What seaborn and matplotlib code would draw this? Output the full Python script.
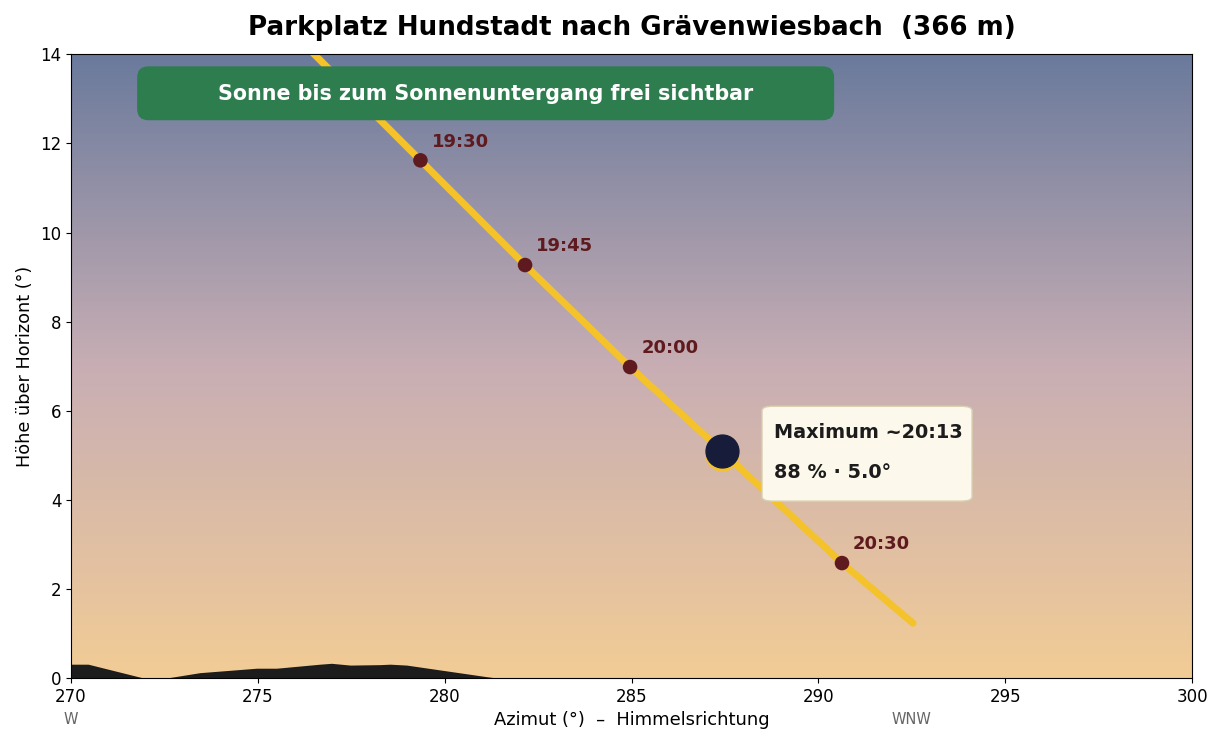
import numpy as np
import matplotlib.pyplot as plt
import seaborn as sns
from matplotlib.colors import LinearSegmentedColormap
from matplotlib.patches import FancyBboxPatch

# sun path (azimuth / altitude in degrees)
path_az = [276.45, 279.35, 282.15, 284.96, 287.42, 290.63, 292.53]
path_alt = [14.05, 11.62, 9.27, 6.98, 5.09, 2.58, 1.23]

# labelled times
time_labels = ["19:30", "19:45", "20:00", "20:30"]
time_az = [279.35, 282.15, 284.96, 290.63]
time_alt = [11.62, 9.27, 6.98, 2.58]

# maximum of the eclipse
max_az, max_alt = 287.42, 5.09
max_lines = ["Maximum ~20:13", "88 % · 5.0°"]

# terrain horizon
hor_az = [270.0, 270.46, 271.94, 272.56, 273.45, 274.97, 275.5, 276.66, 276.97,
          277.47, 278.27, 278.54, 278.98, 280.05, 281.12, 281.39, 300.0]
hor_alt = [0.31, 0.31, 0.0, 0.0, 0.12, 0.22, 0.22, 0.31, 0.33,
           0.29, 0.30, 0.31, 0.29, 0.16, 0.03, 0.0, 0.0]

compass_az = [270, 292.5]
compass_lbl = ["W", "WNW"]

fig = plt.figure(figsize=(12.24, 7.44), dpi=100)
ax = fig.add_axes([0.058, 0.0887, 0.916, 0.8383])

# sky gradient
sky = LinearSegmentedColormap.from_list("sky", ["#f2cc96", "#c8aeb4", "#6a7a9c"])
grad = np.linspace(0, 1, 256).reshape(-1, 1)
ax.imshow(grad, cmap=sky, origin="lower", extent=[270, 300, 0, 14], aspect="auto", zorder=0)

ax.fill_between(hor_az, 0, hor_alt, color="#1c1c1c", lw=0, zorder=1)

sns.lineplot(x=path_az, y=path_alt, ax=ax, color="#f4c22b", lw=5, sort=False,
             solid_capstyle="round", zorder=2)
sns.scatterplot(x=time_az, y=time_alt, ax=ax, color="#5e1a1e", s=110, edgecolor="none", zorder=3)
for lbl, a, h in zip(time_labels, time_az, time_alt):
    ax.annotate(lbl, (a, h), xytext=(8, 7), textcoords="offset points",
                color="#5e1a1e", fontsize=13, fontweight="bold", va="bottom")

# sun disc at maximum
ax.scatter([max_az], [max_alt - 0.07], s=560, color="#f4c22b", zorder=4)
ax.scatter([max_az], [max_alt], s=560, color="#161c3a", zorder=5)

# info box at maximum
box = FancyBboxPatch((288.49, 3.97), 5.62, 2.13, boxstyle="round,pad=0,rounding_size=0.3",
                     mutation_aspect=1 / 3.2, fc="#fcf8ec", ec="#d8d0b0", lw=1, zorder=6)
ax.add_patch(box)
ax.text(288.81, 5.5, max_lines[0], fontsize=13.9, fontweight="bold", color="#1c1c1c", va="center", zorder=7)
ax.text(288.81, 4.62, max_lines[1], fontsize=13.9, fontweight="bold", color="#1c1c1c", va="center", zorder=7)

# visibility banner
banner = FancyBboxPatch((271.77, 12.52), 18.65, 1.21, boxstyle="round,pad=0,rounding_size=0.3",
                        mutation_aspect=1 / 1.2, fc="#2e7d4f", ec="none", zorder=6)
ax.add_patch(banner)
ax.text(281.1, 13.12, "Sonne bis zum Sonnenuntergang frei sichtbar", fontsize=14.9,
        fontweight="bold", color="white", ha="center", va="center", zorder=7)

for a, c in zip(compass_az, compass_lbl):
    ax.text(a, -0.067, c, transform=ax.get_xaxis_transform(), ha="center", va="center",
            fontsize=10.5, color="#666666")

ax.set_xlim(270, 300)
ax.set_ylim(0, 14)
ax.set_xticks(range(270, 301, 5))
ax.set_yticks(range(0, 15, 2))
ax.tick_params(labelsize=12)
ax.set_xlabel("Azimut (°)  –  Himmelsrichtung", fontsize=12.9)
ax.set_ylabel("Höhe über Horizont (°)", fontsize=12.7)
ax.set_title("Parkplatz Hundstadt nach Grävenwiesbach  (366 m)", fontsize=18.8,
             fontweight="bold", pad=14)

fig.savefig("out.png", dpi=100)
